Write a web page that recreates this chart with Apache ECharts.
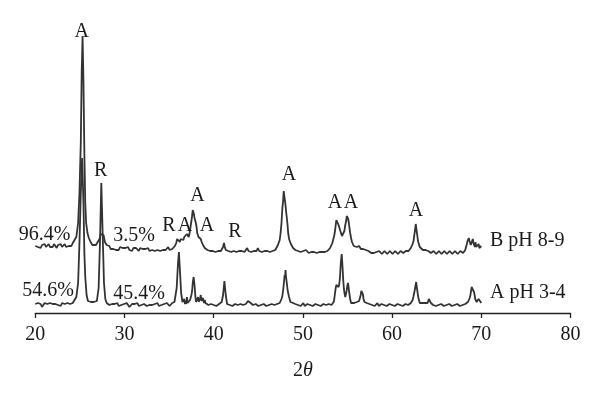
<!DOCTYPE html>
<html>
<head>
<meta charset="utf-8">
<script src="https://cdn.jsdelivr.net/npm/echarts@6/dist/echarts.min.js"></script>
<style>
html,body{margin:0;padding:0;background:#fff;}
#c{width:600px;height:404px;}
</style>
</head>
<body>
<div id="c"></div>
<script>
// x axis ticks
var xTicks = [20, 30, 40, 50, 60, 70, 80];

// Pattern "B pH 8-9" (upper, offset) : [2theta, intensity]
var patternB = [
[20.0,67],[20.15,69],[20.3,66],[20.45,68],[20.6,65],[20.75,68],[20.9,67],[21.05,69],[21.2,66],[21.35,68],[21.5,69],[21.65,66],[21.8,68],
[21.95,66],[22.1,69],[22.25,67],[22.4,65],[22.55,68],[22.7,67],[22.85,69],[23.0,66],[23.15,68],[23.3,69],[23.45,66],[23.6,68],[23.75,67],[23.9,69],
[24.05,67],[24.2,70],[24.4,71],[24.6,76],[24.8,90],[24.95,120],[25.1,170],
[25.2,240],[25.3,277],[25.4,230],[25.5,160],[25.6,110],[25.7,90],[25.85,80],[26.0,75],[26.2,71],[26.4,68],
[26.6,67],[26.8,68],[27.0,70],[27.2,74],[27.35,79],[27.5,81],[27.65,78],[27.8,71],[28.0,68],[28.15,66],[28.3,67],
[28.45,64],[28.6,66],[28.75,64],[28.9,66],[29.05,63],[29.2,65],[29.35,63],[29.5,66],[29.65,64],[29.8,65],[29.95,63],[30.1,65],[30.25,64],[30.4,66],[30.55,63],[30.7,64],[30.85,62],[31.0,65],[31.15,63],[31.3,65],
[31.45,64],[31.6,62],[31.75,65],[31.9,63],[32.05,64],[32.2,62],[32.35,64],[32.5,63],[32.65,65],[32.8,62],[32.95,64],[33.1,63],[33.25,65],[33.4,62],[33.55,64],[33.7,63],[33.85,65],[34.0,62],[34.15,64],[34.3,63],
[34.45,65],[34.6,63],[34.75,64],[34.9,66],[35.05,63],[35.2,65],[35.35,64],[35.5,66],[35.65,67],[35.8,70],[35.9,74],[36.0,76],[36.1,73],[36.2,71],[36.3,74],[36.4,72],[36.5,75],[36.6,73],[36.7,76],[36.8,77],
[36.9,75],[37.0,79],[37.1,77],[37.2,76],[37.3,80],[37.4,82],[37.55,95],[37.65,103],[37.7,105],[37.78,99],[37.85,95],[37.92,97],[38.0,90],[38.08,86],[38.15,80],[38.22,82],[38.3,76],[38.38,78],[38.45,75],
[38.55,74],[38.65,71],[38.8,68],[38.9,69],[39.0,65],[39.15,66],[39.3,63],[39.45,64],[39.6,62],[39.75,64],[39.9,62],[40.05,63],[40.2,61],[40.35,63],[40.5,62],[40.65,64],[40.8,62],[40.95,64],[41.05,66],
[41.15,70],[41.25,66],[41.35,63],[41.5,64],[41.65,62],[41.8,63],[41.95,61],[42.1,63],[42.25,62],[42.4,64],[42.55,61],[42.7,63],[42.85,62],[43.0,64],[43.15,62],[43.3,63],[43.45,61],[43.6,63],[43.75,65],
[43.9,62],[44.05,63],[44.2,61],[44.35,63],[44.5,62],[44.65,64],[44.8,62],[44.95,65],[45.1,62],[45.25,63],[45.4,61],[45.55,63],[45.7,62],[45.85,64],[46.0,62],[46.15,63],[46.3,61],[46.45,63],[46.6,62],[46.75,64],[46.9,63],
[47.05,65],[47.2,68],[47.3,70],[47.4,73],[47.5,80],[47.6,90],[47.7,105],[47.78,112],[47.85,122],[47.92,117],[47.98,119],[48.05,108],[48.12,101],[48.2,95],[48.28,88],[48.35,80],[48.45,74],[48.55,73],[48.65,69],
[48.8,67],[48.9,65],[49.0,66],[49.15,63],[49.3,64],[49.45,62],[49.6,63],[49.75,61],[49.9,63],[50.05,62],[50.2,61],[50.35,63],[50.5,62],[50.65,60],[50.8,62],[50.95,61],[51.1,63],[51.25,61],[51.4,62],[51.55,60],[51.7,62],
[51.85,61],[52.0,63],[52.15,61],[52.3,62],[52.45,61],[52.6,63],[52.75,62],[52.9,64],[53.05,65],[53.2,67],[53.3,70],[53.4,72],[53.5,77],[53.6,82],[53.68,88],[53.75,93],
[53.85,95],[53.92,91],[54.0,88],[54.1,86],[54.2,82],[54.3,80],[54.38,77],[54.45,76],[54.55,79],[54.65,82],[54.75,88],[54.85,92],[54.92,97],[55.0,99],[55.08,94],[55.15,90],[55.22,85],[55.3,80],[55.4,75],[55.5,71],
[55.6,69],[55.7,67],[55.8,68],[55.9,65],[56.05,66],[56.2,64],[56.3,67],[56.4,66],[56.5,64],[56.6,63],[56.75,64],[56.9,62],[57.05,63],[57.2,61],[57.35,62],[57.5,62],[57.65,60],[57.8,61],[57.95,60],[58.1,62],
[58.25,61],[58.4,60],[58.55,62],[58.7,61],[58.85,59],[59.0,60],[59.15,62],[59.3,61],[59.45,59],[59.6,60],[59.75,62],[59.9,61],[60.05,59],[60.2,60],[60.35,62],[60.5,61],[60.65,59],[60.8,60],[60.95,62],[61.1,61],
[61.25,60],[61.4,60],[61.55,62],[61.7,61],[61.85,62],[62.0,63],[62.1,65],[62.2,66],[62.3,69],[62.4,72],[62.48,77],[62.55,82],[62.62,86],[62.65,89],[62.7,86],[62.75,82],[62.82,78],[62.9,72],[63.0,69],[63.1,66],
[63.2,65],[63.3,64],[63.45,63],[63.6,62],[63.75,63],[63.9,61],[64.05,62],[64.2,62],[64.35,60],[64.5,60],[64.65,62],[64.8,61],[64.95,59],[65.1,60],[65.25,62],[65.4,61],[65.55,59],[65.7,60],[65.85,62],[66.0,61],
[66.15,59],[66.3,60],[66.45,62],[66.6,61],[66.75,59],[66.9,60],[67.05,62],[67.2,61],[67.35,59],[67.5,60],[67.65,62],[67.8,61],[67.95,60],[68.1,62],[68.2,63],[68.3,65],[68.38,69],
[68.45,72],[68.52,70],[68.6,75],[68.68,72],[68.75,73],[68.82,68],[68.9,70],[68.98,68],[69.05,74],[69.12,70],[69.2,69],[69.28,66],[69.35,71],[69.42,66],[69.5,67],[69.6,64],[69.7,69],[69.78,65],[69.85,66],[69.92,64],[70.0,67]
];

// Pattern "A pH 3-4" (lower) : [2theta, intensity]
var patternA = [
[20.0,9],[20.15,7],[20.3,10],[20.45,8],[20.6,9],[20.75,6],[20.9,8],[21.05,10],[21.2,8],[21.35,9],[21.5,7],[21.65,10],[21.8,8],[21.95,9],[22.1,7],
[22.25,9],[22.4,10],[22.55,8],[22.7,9],[22.85,7],[23.0,10],[23.15,8],[23.3,9],[23.45,7],[23.6,10],[23.75,8],[23.9,9],[24.05,11],[24.2,10],[24.4,12],[24.6,16],[24.8,30],[24.95,70],[25.1,120],
[25.25,155],[25.4,110],[25.5,60],[25.6,36],[25.75,18],[25.9,12],[26.0,13],[26.1,10],[26.25,11],[26.4,9],[26.55,11],[26.7,10],[26.9,12],
[27.1,25],[27.25,70],[27.4,130],[27.55,80],[27.7,30],[27.85,14],[28.0,10],[28.15,11],[28.3,8],[28.45,10],[28.6,9],[28.75,7],[28.9,9],
[29.05,8],[29.2,10],[29.35,7],[29.5,9],[29.65,8],[29.8,7],[29.95,9],[30.1,8],[30.25,10],[30.4,8],[30.55,6],[30.7,8],[30.85,9],[31.0,7],[31.15,9],[31.3,8],[31.45,10],[31.6,7],[31.75,9],[31.9,8],
[32.05,6],[32.2,9],[32.35,8],[32.5,7],[32.65,9],[32.8,8],[32.95,10],[33.1,8],[33.25,7],[33.4,9],[33.55,8],[33.7,10],[33.85,7],[34.0,9],[34.15,8],[34.3,7],[34.45,9],[34.6,8],[34.75,10],[34.9,9],
[35.05,7],[35.2,9],[35.35,10],[35.5,9],[35.6,11],[35.7,12],[35.85,25],[36.0,50],[36.1,61],[36.2,45],[36.35,20],[36.5,11],[36.6,9],[36.7,14],
[36.78,9],[36.85,12],[36.92,9],[37.0,16],[37.08,10],[37.15,11],[37.25,9],[37.35,13],[37.42,11],[37.5,18],[37.58,22],[37.65,30],[37.75,36],[37.85,28],[37.95,16],[38.02,11],[38.1,12],
[38.18,10],[38.25,16],[38.32,11],[38.4,12],[38.48,15],[38.55,18],[38.62,12],[38.7,11],[38.78,15],[38.85,14],[38.92,10],[39.0,13],[39.08,10],[39.15,9],[39.3,10],[39.4,8],[39.55,9],[39.7,9],[39.85,7],[40.0,8],
[40.15,9],[40.3,7],[40.45,8],[40.6,9],[40.75,10],[40.9,11],[41.05,18],[41.2,32],[41.35,18],[41.5,9],[41.65,10],[41.8,8],[41.95,9],[42.1,7],[42.25,8],[42.4,9],
[42.55,7],[42.7,8],[42.85,10],[43.0,9],[43.15,7],[43.3,8],[43.45,10],[43.6,9],[43.75,11],[43.85,12],[44.0,14],[44.15,10],[44.3,9],[44.4,8],[44.55,10],[44.7,9],[44.85,7],[45.0,7],
[45.15,9],[45.3,8],[45.45,10],[45.6,9],[45.75,7],[45.9,7],[46.05,9],[46.2,8],[46.35,10],[46.5,9],[46.65,7],[46.8,8],[46.95,10],[47.1,9],[47.25,11],[47.4,10],[47.5,12],[47.6,14],[47.7,17],[47.8,24],
[47.88,31],[47.95,38],[48.0,35],[48.05,43],[48.1,37],[48.15,35],[48.22,28],[48.3,22],[48.38,20],[48.45,16],[48.52,14],[48.6,11],[48.7,12],[48.8,9],[48.9,10],[49.0,8],[49.15,9],[49.3,7],[49.45,8],[49.6,9],
[49.75,7],[49.9,8],[50.05,10],[50.2,7],[50.35,8],[50.5,9],[50.65,7],[50.8,8],[50.95,10],[51.1,7],[51.25,8],[51.4,9],[51.55,7],[51.7,8],[51.85,10],[52.0,7],[52.15,8],[52.3,9],[52.45,7],[52.6,8],
[52.75,10],[52.9,9],[53.05,7],[53.2,8],[53.3,10],[53.45,11],[53.52,14],[53.6,20],[53.68,25],[53.75,28],[53.85,30],[53.92,27],[54.0,26],[54.08,29],[54.15,35],[54.25,50],[54.35,59],
[54.45,45],[54.52,33],[54.6,24],[54.68,19],[54.75,16],[54.82,18],[54.9,22],[54.98,27],[55.05,30],[55.12,26],[55.2,20],[55.3,14],[55.4,10],[55.5,9],[55.6,8],[55.75,10],[55.9,9],[56.05,11],[56.2,10],
[56.3,12],[56.4,14],[56.48,18],[56.55,22],[56.65,23],[56.72,19],[56.8,14],[56.9,11],[57.0,9],[57.15,10],[57.3,8],[57.45,9],[57.6,7],[57.75,8],[57.9,9],[58.05,7],[58.2,8],[58.35,10],[58.5,7],
[58.65,8],[58.8,9],[58.95,7],[59.1,8],[59.25,10],[59.4,7],[59.55,8],[59.7,9],[59.85,7],[60.0,8],[60.15,10],[60.3,7],[60.45,8],[60.6,9],[60.75,7],[60.9,8],[61.05,10],[61.2,7],[61.35,8],[61.5,9],
[61.65,7],[61.8,8],[61.95,10],[62.1,10],[62.2,12],[62.3,13],[62.38,16],[62.45,18],[62.52,22],[62.6,26],[62.7,31],[62.75,27],[62.8,25],[62.88,19],[62.95,15],[63.02,13],[63.1,10],[63.2,11],[63.3,9],
[63.45,10],[63.6,8],[63.75,10],[63.9,9],[63.98,10],[64.05,12],[64.12,14],[64.2,16],[64.28,12],[64.35,10],[64.45,9],[64.6,8],[64.75,9],[64.9,7],[65.05,9],[65.2,8],[65.35,10],[65.5,9],[65.65,7],[65.8,7],
[65.95,9],[66.1,8],[66.25,10],[66.4,9],[66.55,7],[66.7,7],[66.85,9],[67.0,8],[67.15,10],[67.3,9],[67.45,7],[67.6,7],[67.75,9],[67.9,8],[68.05,10],[68.2,9],[68.35,10],[68.5,11],[68.6,13],[68.7,15],
[68.78,18],[68.85,22],[68.92,26],[69.0,28],[69.05,25],[69.1,26],[69.18,21],[69.25,18],[69.32,14],[69.4,12],[69.48,11],[69.55,10],[69.62,12],[69.7,14],[69.78,13],[69.85,16],[69.92,12],[70.0,10]
];

// Phase labels: [2theta, intensity, text]
var phaseLabels = [
[25.2, 281, 'A'], [27.33, 142, 'R'], [38.18, 117, 'A'],
[34.99, 87, 'R'], [36.78, 87, 'A'], [39.25, 87, 'A'], [42.39, 81, 'R'],
[48.44, 138, 'A'], [53.6, 110, 'A'], [55.4, 110, 'A'], [62.68, 102, 'A']
];

var seriesNames = ['B pH 8-9', 'A pH 3-4'];
var percentB = ['96.4%', '3.5%'];
var percentA = ['54.6%', '45.4%'];

var FONT = 'Liberation Serif';
var TXT = '#1a1a1a';
var LINE = '#333333';

var chart = echarts.init(document.getElementById('c'), null, {renderer: 'canvas'});

function txt(t, x, y, align) {
  return {
    type: 'text', x: x, y: y, silent: true,
    style: {text: t, x: 0, y: 0, fill: TXT, font: '20px "' + FONT + '"',
      textAlign: align || 'center', textVerticalAlign: 'middle'}
  };
}

var option = {
  animation: false,
  backgroundColor: '#ffffff',
  grid: {left: 35.3, right: 29.5, top: 13, bottom: 91, containLabel: false},
  xAxis: {
    type: 'value', min: xTicks[0], max: xTicks[xTicks.length - 1], interval: 10,
    axisLine: {show: true, lineStyle: {color: '#222', width: 1.3}},
    axisTick: {show: true, inside: false, length: 5, lineStyle: {color: '#222', width: 1.3}},
    splitLine: {show: false},
    axisLabel: {color: TXT, fontFamily: FONT, fontSize: 20, margin: 12},
    name: '2{i|θ}', nameLocation: 'middle', nameGap: 48,
    nameTextStyle: {color: TXT, fontFamily: FONT, fontSize: 20,
      rich: {i: {fontStyle: 'italic', fontFamily: FONT, fontSize: 20, color: TXT}}}
  },
  yAxis: {
    type: 'value', min: 0, max: 300, show: false, splitLine: {show: false}
  },
  series: [
    {name: seriesNames[0], type: 'line', data: patternB, showSymbol: false, symbol: 'none',
      lineStyle: {color: LINE, width: 1.8}, z: 3},
    {name: seriesNames[1], type: 'line', data: patternA, showSymbol: false, symbol: 'none',
      lineStyle: {color: LINE, width: 1.8}, z: 2},
    {type: 'scatter', data: phaseLabels.map(function (p) { return {value: [p[0], p[1]], name: p[2]}; }),
      symbolSize: 0, clip: false, silent: true, z: 5,
      itemStyle: {opacity: 1},
      label: {show: true, position: 'inside', opacity: 1, formatter: function (p) { return p.name; },
        color: TXT, fontFamily: FONT, fontSize: 20, textBorderWidth: 0}}
  ],
  graphic: [
    txt(percentB[0], 44.5, 235), txt(percentB[1], 134, 236),
    txt(percentA[0], 48, 291), txt(percentA[1], 139, 294),
    txt(seriesNames[0], 490, 241, 'left'), txt(seriesNames[1], 490, 293, 'left')
  ]
};
chart.setOption(option);
</script>
</body>
</html>
